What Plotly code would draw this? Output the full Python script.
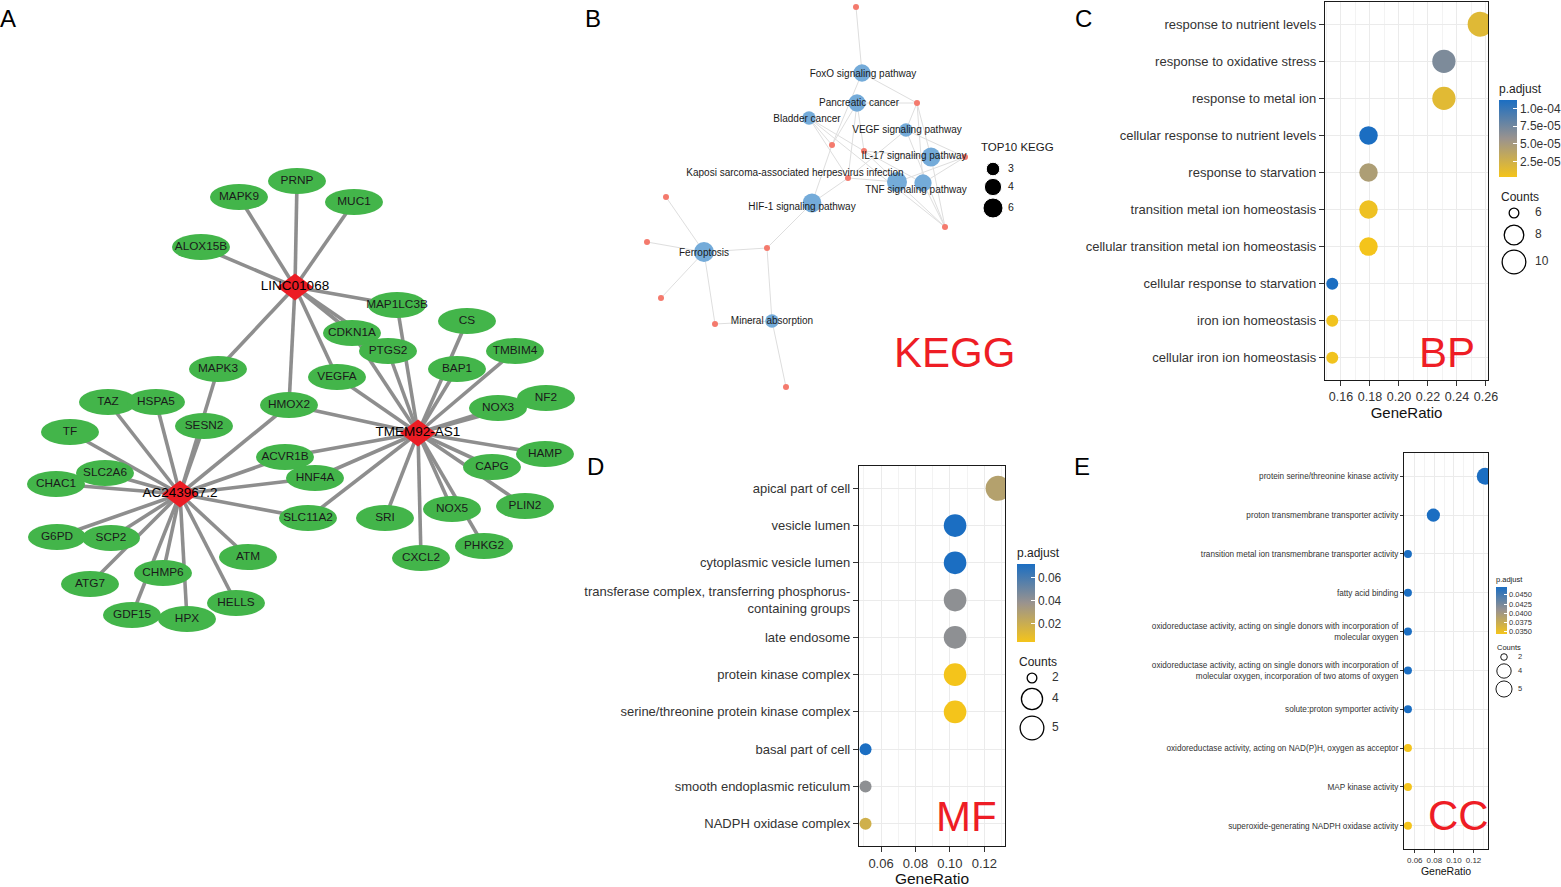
import math
import plotly.graph_objects as go

W, H = 1561, 887
FONT = "Liberation Sans, Arial, Helvetica, sans-serif"

# ---------------- Panel A: lncRNA - mRNA network ----------------
hub_names = ["LINC01068", "TMEM92-AS1", "AC243967.2"]
hub_x = [295, 418, 180]
hub_y = [287, 433, 494]

gene_names = ["PRNP", "MAPK9", "MUC1", "ALOX15B", "MAP1LC3B", "CS", "CDKN1A", "PTGS2",
              "TMBIM4", "BAP1", "MAPK3", "VEGFA", "NF2", "NOX3", "TAZ", "HSPA5", "HMOX2",
              "TF", "SESN2", "HAMP", "ACVR1B", "CAPG", "CHAC1", "SLC2A6", "HNF4A", "SLC11A2",
              "SRI", "NOX5", "PLIN2", "G6PD", "SCP2", "ATM", "PHKG2", "CXCL2", "CHMP6",
              "ATG7", "HELLS", "GDF15", "HPX"]
gene_x = [297, 239, 354, 201, 397, 467, 352, 388, 515, 457, 218, 337, 546, 498, 108, 156, 289,
          70, 204, 545, 285, 492, 56, 105, 315, 308, 385, 452, 525, 57, 111, 248, 484, 421, 163,
          90, 236, 132, 187]
gene_y = [181, 197, 202, 247, 305, 321, 333, 351, 351, 369, 369, 377, 398, 408, 402, 402, 405,
          432, 426, 454, 457, 467, 484, 473, 478, 518, 518, 509, 506, 537, 538, 557, 546, 558,
          573, 584, 603, 615, 619]

linc01068_targets = ["PRNP", "MAPK9", "MUC1", "ALOX15B", "MAP1LC3B", "CDKN1A", "PTGS2",
                     "VEGFA", "HMOX2", "MAPK3"]
tmem92_targets = ["MAP1LC3B", "PTGS2", "CDKN1A", "VEGFA", "CS", "BAP1", "TMBIM4", "NF2", "NOX3",
                  "HAMP", "CAPG", "PLIN2", "PHKG2", "NOX5", "CXCL2", "SRI", "SLC11A2", "HNF4A",
                  "ACVR1B", "HMOX2"]
ac243967_targets = ["TAZ", "HSPA5", "TF", "SLC2A6", "CHAC1", "SESN2", "MAPK3", "HMOX2", "ACVR1B",
                    "HNF4A", "SLC11A2", "ATM", "HELLS", "HPX", "CHMP6", "GDF15", "ATG7", "SCP2",
                    "G6PD"]

# ---------------- Panel B: KEGG network ----------------
kegg_terms = ["FoxO signaling pathway", "Pancreatic cancer", "Bladder cancer",
              "VEGF signaling pathway", "IL-17 signaling pathway",
              "Kaposi sarcoma-associated herpesvirus infection", "TNF signaling pathway",
              "HIF-1 signaling pathway", "Ferroptosis", "Mineral absorption"]
kegg_count = [4, 4, 3, 3, 5, 6, 4, 5, 6, 3]
kegg_x = [862, 857, 809, 906, 931, 897, 923, 812, 704, 772]
kegg_y = [73, 103, 118, 130, 157, 182, 183, 203, 252, 321]
kegg_label_x = [863, 859, 807, 907, 914, 795, 916, 802, 704, 772]
kegg_label_y = [74, 103, 119, 130, 156, 173, 190, 207, 253, 321]
kegg_gene_x = [856, 917, 832, 864, 965, 848, 945, 666, 647, 767, 661, 715, 786]
kegg_gene_y = [7, 103, 145, 151, 157, 178, 227, 197, 242, 248, 298, 324, 387]
kegg_link_term = [0, 0, 0, 1, 1, 1, 1, 2, 2, 2, 2, 3, 3, 3, 3, 4, 4, 4, 4, 5, 5, 5, 5, 6, 6, 6,
                  6, 7, 7, 7, 8, 8, 8, 8, 8, 9, 9, 9]
kegg_link_gene = [0, 1, 2, 1, 2, 3, 5, 2, 3, 5, 6, 1, 5, 6, 4, 1, 3, 4, 6, 3, 5, 6, 4, 1, 3, 4,
                  6, 2, 5, 9, 7, 8, 9, 10, 11, 9, 11, 12]
kegg_legend_counts = [3, 4, 6]

# ---------------- Panel C: BP dot plot ----------------
bp_terms = ["response to nutrient levels", "response to oxidative stress", "response to metal ion",
            "cellular response to nutrient levels", "response to starvation",
            "transition metal ion homeostasis", "cellular transition metal ion homeostasis",
            "cellular response to starvation", "iron ion homeostasis",
            "cellular iron ion homeostasis"]
bp_ratio = [0.256, 0.231, 0.231, 0.179, 0.179, 0.179, 0.179, 0.154, 0.154, 0.154]
bp_count = [10, 9, 9, 7, 7, 7, 7, 6, 6, 6]
bp_padj = [1.6e-05, 7.0e-05, 1.5e-05, 1.12e-04, 4.6e-05, 7.0e-06, 3.5e-06, 1.12e-04, 5.0e-06,
           5.0e-06]
bp_padj_range = [3.4e-06, 1.12e-04]
bp_cbar_ticks = [2.5e-05, 5.0e-05, 7.5e-05, 1.0e-04]
bp_cbar_text = ["2.5e-05", "5.0e-05", "7.5e-05", "1.0e-04"]
bp_x_range = [0.149, 0.2614]
bp_legend_counts = [6, 8, 10]

# ---------------- Panel D: MF dot plot ----------------
mf_terms = ["apical part of cell", "vesicle lumen", "cytoplasmic vesicle lumen",
            "transferase complex, transferring phosphorus-<br>containing groups", "late endosome",
            "protein kinase complex", "serine/threonine protein kinase complex",
            "basal part of cell", "smooth endoplasmic reticulum", "NADPH oxidase complex"]
mf_ratio = [0.128, 0.103, 0.103, 0.103, 0.103, 0.103, 0.103, 0.051, 0.051, 0.051]
mf_count = [5, 4, 4, 4, 4, 4, 4, 2, 2, 2]
mf_padj = [0.028, 0.0717, 0.0717, 0.041, 0.041, 0.004, 0.004, 0.0717, 0.041, 0.018]
mf_padj_range = [0.004, 0.0717]
mf_cbar_ticks = [0.02, 0.04, 0.06]
mf_cbar_text = ["0.02", "0.04", "0.06"]
mf_x_range = [0.0472, 0.132]
mf_legend_counts = [2, 4, 5]

# ---------------- Panel E: CC dot plot ----------------
cc_terms = ["protein serine/threonine kinase activity", "proton transmembrane transporter activity",
            "transition metal ion transmembrane transporter activity", "fatty acid binding",
            "oxidoreductase activity, acting on single donors with incorporation of<br>molecular oxygen",
            "oxidoreductase activity, acting on single donors with incorporation of<br>molecular oxygen, incorporation of two atoms of oxygen",
            "solute:proton symporter activity",
            "oxidoreductase activity, acting on NAD(P)H, oxygen as acceptor",
            "MAP kinase activity", "superoxide-generating NADPH oxidase activity"]
cc_ratio = [0.132, 0.079, 0.053, 0.053, 0.053, 0.053, 0.053, 0.053, 0.053, 0.053]
cc_count = [5, 3, 2, 2, 2, 2, 2, 2, 2, 2]
cc_padj = [0.0471, 0.0471, 0.0471, 0.0471, 0.0471, 0.0471, 0.0471, 0.0344, 0.0344, 0.0344]
cc_padj_range = [0.0344, 0.0471]
cc_cbar_ticks = [0.0350, 0.0375, 0.0400, 0.0425, 0.0450]
cc_cbar_text = ["0.0350", "0.0375", "0.0400", "0.0425", "0.0450"]
cc_x_range = [0.049, 0.1348]
cc_legend_counts = [2, 4, 5]

# ---------------- styles ----------------
EDGE_A = "#8e8e8e"
GREEN = "#43b54a"
HUB_RED = "#ec1c24"
LABEL_RED = "#ee1d25"
KEGG_BLUE = "#74abd9"
KEGG_GENE = "#f47a6d"
GRID = "#ebebeb"
SCALE = [[0.0, "#f4c41b"], [0.5, "#9a938e"], [1.0, "#1b6ec2"]]


def size_scale(counts, cmin, cmax, dmin, dmax):
    return [dmin + (dmax - dmin) * math.sqrt((c - cmin) / (cmax - cmin)) for c in counts]


fig = go.Figure()
shapes = []

# ---- Panel A drawing ----
gpos = {n: (x, y) for n, x, y in zip(gene_names, gene_x, gene_y)}
hpos = {n: (x, y) for n, x, y in zip(hub_names, hub_x, hub_y)}
for hub, targets in zip(hub_names, [linc01068_targets, tmem92_targets, ac243967_targets]):
    hx, hy = hpos[hub]
    for g in targets:
        gx, gy = gpos[g]
        shapes.append(dict(type="line", xref="x", yref="y", x0=hx, y0=hy, x1=gx, y1=gy,
                           line=dict(color=EDGE_A, width=3.6), layer="below"))
EW, EH = 29, 13
for n in gene_names:
    x, y = gpos[n]
    shapes.append(dict(type="circle", xref="x", yref="y", x0=x - EW, x1=x + EW, y0=y - EH,
                       y1=y + EH, fillcolor=GREEN, line=dict(width=0), layer="below"))
DW, DH = 18, 13.5
for n in hub_names:
    x, y = hpos[n]
    shapes.append(dict(type="path", xref="x", yref="y",
                       path=f"M {x - DW},{y} L {x},{y - DH} L {x + DW},{y} L {x},{y + DH} Z",
                       fillcolor=HUB_RED, line=dict(width=0), layer="below"))

fig.add_trace(go.Scatter(x=gene_x, y=gene_y, mode="text", text=gene_names,
                         textfont=dict(family=FONT, size=11.8, color="#1a1a1a"),
                         xaxis="x", yaxis="y", hoverinfo="skip", showlegend=False))
fig.add_trace(go.Scatter(x=hub_x, y=hub_y, mode="text", text=hub_names,
                         textfont=dict(family=FONT, size=13.5, color="#000000"),
                         xaxis="x", yaxis="y", hoverinfo="skip", showlegend=False))

# ---- Panel B drawing ----
ex, ey = [], []
for t, g in zip(kegg_link_term, kegg_link_gene):
    ex += [kegg_x[t], kegg_gene_x[g], None]
    ey += [kegg_y[t], kegg_gene_y[g], None]
fig.add_trace(go.Scatter(x=ex, y=ey, mode="lines", line=dict(color="#dedede", width=1),
                         xaxis="x", yaxis="y", hoverinfo="skip", showlegend=False))
fig.add_trace(go.Scatter(x=kegg_gene_x, y=kegg_gene_y, mode="markers",
                         marker=dict(size=6, color=KEGG_GENE, line=dict(width=0), opacity=1),
                         xaxis="x", yaxis="y", hoverinfo="skip", showlegend=False))
kegg_sizes = size_scale(kegg_count, 3, 6, 13.5, 20)
fig.add_trace(go.Scatter(x=kegg_x, y=kegg_y, mode="markers",
                         marker=dict(size=kegg_sizes, color=KEGG_BLUE, line=dict(width=0),
                                     opacity=1),
                         xaxis="x", yaxis="y", hoverinfo="skip", showlegend=False))
fig.add_trace(go.Scatter(x=kegg_label_x, y=kegg_label_y, mode="text", text=kegg_terms,
                         textfont=dict(family=FONT, size=10, color="#1a1a1a"),
                         xaxis="x", yaxis="y", hoverinfo="skip", showlegend=False))
kl_y = [169, 187, 208]
fig.add_trace(go.Scatter(x=[993] * 3, y=kl_y, mode="markers",
                         marker=dict(size=size_scale(kegg_legend_counts, 3, 6, 13.5, 20),
                                     color="#000000", opacity=1),
                         xaxis="x", yaxis="y", hoverinfo="skip", showlegend=False))
fig.add_trace(go.Scatter(x=[1008] * 3, y=kl_y, mode="text",
                         text=[str(c) for c in kegg_legend_counts], textposition="middle right",
                         textfont=dict(family=FONT, size=10.5, color="#1a1a1a"),
                         xaxis="x", yaxis="y", hoverinfo="skip", showlegend=False))


# ---- Dot plots ----
def dot_panel(idx, terms, ratio, count, padj, cmin, cmax, dmin, dmax):
    fig.add_trace(go.Scatter(
        x=ratio, y=terms, mode="markers",
        marker=dict(size=size_scale(count, cmin, cmax, dmin, dmax), color=padj,
                    coloraxis=f"coloraxis{'' if idx == 2 else idx - 1}", line=dict(width=0),
                    opacity=1),
        xaxis=f"x{idx}", yaxis=f"y{idx}", hoverinfo="skip", showlegend=False))


dot_panel(2, bp_terms, bp_ratio, bp_count, bp_padj, 6, 10, 12, 25)
dot_panel(3, mf_terms, mf_ratio, mf_count, mf_padj, 2, 5, 12, 25)
dot_panel(4, cc_terms, cc_ratio, cc_count, cc_padj, 2, 5, 8, 17)


def count_legend(xc, ys, counts, cmin, cmax, dmin, dmax, xl, fs, lw):
    fig.add_trace(go.Scatter(x=[xc] * len(ys), y=ys, mode="markers",
                             marker=dict(symbol="circle-open",
                                         size=[s - lw for s in size_scale(counts, cmin, cmax, dmin, dmax)],
                                         color="#000000", line=dict(width=lw), opacity=1),
                             xaxis="x", yaxis="y", hoverinfo="skip", showlegend=False))
    fig.add_trace(go.Scatter(x=[xl] * len(ys), y=ys, mode="text",
                             text=[str(c) for c in counts], textposition="middle right",
                             textfont=dict(family=FONT, size=fs, color="#333333"),
                             xaxis="x", yaxis="y", hoverinfo="skip", showlegend=False))


count_legend(1514, [213, 235, 262], bp_legend_counts, 6, 10, 11, 25, 1535, 12, 1.3)
count_legend(1032, [678, 699, 728], mf_legend_counts, 2, 5, 11, 25, 1052, 12, 1.3)
count_legend(1504, [657, 671, 689], cc_legend_counts, 2, 5, 7.5, 17, 1518, 7.5, 0.9)


def xpax(lo, hi):
    return [lo / W, hi / W]


def ypax(top, bot):
    return [1 - bot / H, 1 - top / H]


def dot_axes(xdom, ydom, xrange, terms, tfs, xfs, titlefs, lw, tl):
    xa = dict(domain=xdom, range=xrange, tick0=0, dtick=0.02, tickformat=".2f",
              ticks="outside", ticklen=tl, tickwidth=1, tickcolor="#333333",
              tickfont=dict(family=FONT, size=xfs, color="#333333"),
              showline=True, mirror=True, linecolor="#1a1a1a", linewidth=lw,
              showgrid=True, gridcolor=GRID, gridwidth=1.1, zeroline=False,
              minor=dict(dtick=0.01, tick0=0, showgrid=True, gridcolor="#f3f3f3", gridwidth=0.6),
              title=dict(text="GeneRatio", font=dict(family=FONT, size=titlefs, color="#111111"),
                         standoff=3),
              fixedrange=True)
    ya = dict(domain=ydom, type="category", categoryorder="array", categoryarray=terms,
              range=[len(terms) - 0.4, -0.6], ticks="outside", ticklen=tl, tickwidth=1,
              tickcolor="#333333", tickfont=dict(family=FONT, size=tfs, color="#333333"),
              showline=True, mirror=True, linecolor="#1a1a1a", linewidth=lw,
              showgrid=True, gridcolor=GRID, gridwidth=1.1, zeroline=False, fixedrange=True)
    return xa, ya


xa2, ya2 = dot_axes(xpax(1325, 1488), ypax(2, 380), bp_x_range, bp_terms, 13, 12.5, 15, 1.3, 5)
xa3, ya3 = dot_axes(xpax(859, 1005), ypax(466, 846), mf_x_range, mf_terms, 13, 13, 15.5, 1.3, 5)
xa4, ya4 = dot_axes(xpax(1404, 1488), ypax(453, 849), cc_x_range, cc_terms, 8.2, 8, 10.5, 1.0, 3)
xa2["anchor"], ya2["anchor"] = "y2", "x2"
xa3["anchor"], ya3["anchor"] = "y3", "x3"
xa4["anchor"], ya4["anchor"] = "y4", "x4"


def cbar(x_left, top, bottom, thick, ticks, text, fs):
    return dict(x=x_left / W, xanchor="left", y=1 - top / H, yanchor="top",
                len=bottom - top, lenmode="pixels", thickness=thick, thicknessmode="pixels",
                xpad=0, ypad=0, outlinewidth=0, ticks="inside", ticklen=max(2, thick / 5),
                tickwidth=1, tickcolor="white", tickvals=ticks, ticktext=text,
                tickfont=dict(family=FONT, size=fs, color="#333333"),
                title=dict(text="p.adjust", side="top",
                           font=dict(family=FONT, size=fs, color="#222222")))


annotations = []
for letter, lx, ly in [("A", 8, 18), ("B", 593, 18), ("C", 1083, 18), ("D", 595, 466),
                       ("E", 1082, 466)]:
    annotations.append(dict(text=letter, x=lx, y=ly, xref="x", yref="y", showarrow=False,
                            xanchor="center", yanchor="middle",
                            font=dict(family=FONT, size=24, color="#000000")))
for lab, lx, ly in [("KEGG", 954, 352), ("BP", 1447, 352), ("MF", 966, 816), ("CC", 1458, 815)]:
    annotations.append(dict(text=lab, x=lx, y=ly, xref="x", yref="y", showarrow=False,
                            xanchor="center", yanchor="middle",
                            font=dict(family=FONT, size=42, color=LABEL_RED)))
annotations.append(dict(text="TOP10 KEGG", x=1017, y=147, xref="x", yref="y", showarrow=False,
                        xanchor="center", yanchor="middle",
                        font=dict(family=FONT, size=11.5, color="#1a1a1a")))
for tx, ty, fs in [(1499, 197, 12), (1017, 662, 12), (1495, 647, 7.5)]:
    annotations.append(dict(text="Counts", x=tx, y=ty, xref="x", yref="y", showarrow=False,
                            xanchor="left", yanchor="middle",
                            font=dict(family=FONT, size=fs, color="#222222")))

fig.update_layout(
    autosize=True,
    margin=dict(l=0, r=0, t=0, b=0, pad=0),
    paper_bgcolor="white", plot_bgcolor="white",
    showlegend=False,
    font=dict(family=FONT),
    xaxis=dict(domain=[0, 1], range=[0, W], visible=False, fixedrange=True),
    yaxis=dict(domain=[0, 1], range=[H, 0], visible=False, fixedrange=True),
    xaxis2=xa2, yaxis2=ya2, xaxis3=xa3, yaxis3=ya3, xaxis4=xa4, yaxis4=ya4,
    coloraxis=dict(cmin=bp_padj_range[0], cmax=bp_padj_range[1], colorscale=SCALE,
                   colorbar=cbar(1499, 81, 177, 18, bp_cbar_ticks, bp_cbar_text, 12)),
    coloraxis2=dict(cmin=mf_padj_range[0], cmax=mf_padj_range[1], colorscale=SCALE,
                    colorbar=cbar(1017, 545, 642, 18, mf_cbar_ticks, mf_cbar_text, 12)),
    coloraxis3=dict(cmin=cc_padj_range[0], cmax=cc_padj_range[1], colorscale=SCALE,
                    colorbar=cbar(1496, 573, 634, 11, cc_cbar_ticks, cc_cbar_text, 7.5)),
    shapes=shapes,
    annotations=annotations,
)

fig.write_html(
    "out.html",
    default_width="100%",
    default_height="100vh",
    config={"displayModeBar": False, "responsive": True},
    post_script=("var gd=document.getElementById('{plot_id}');"
                 "document.documentElement.style.margin='0px';"
                 "document.documentElement.style.overflow='hidden';"
                 "document.body.style.margin='0px';document.body.style.padding='0px';"
                 "document.body.style.overflow='hidden';"
                 "gd.style.position='fixed';gd.style.left='0px';gd.style.top='0px';"
                 "gd.style.width='calc(100vw + 10px)';gd.style.height='100vh';"
                 "Plotly.Plots.resize(gd);"),
)
